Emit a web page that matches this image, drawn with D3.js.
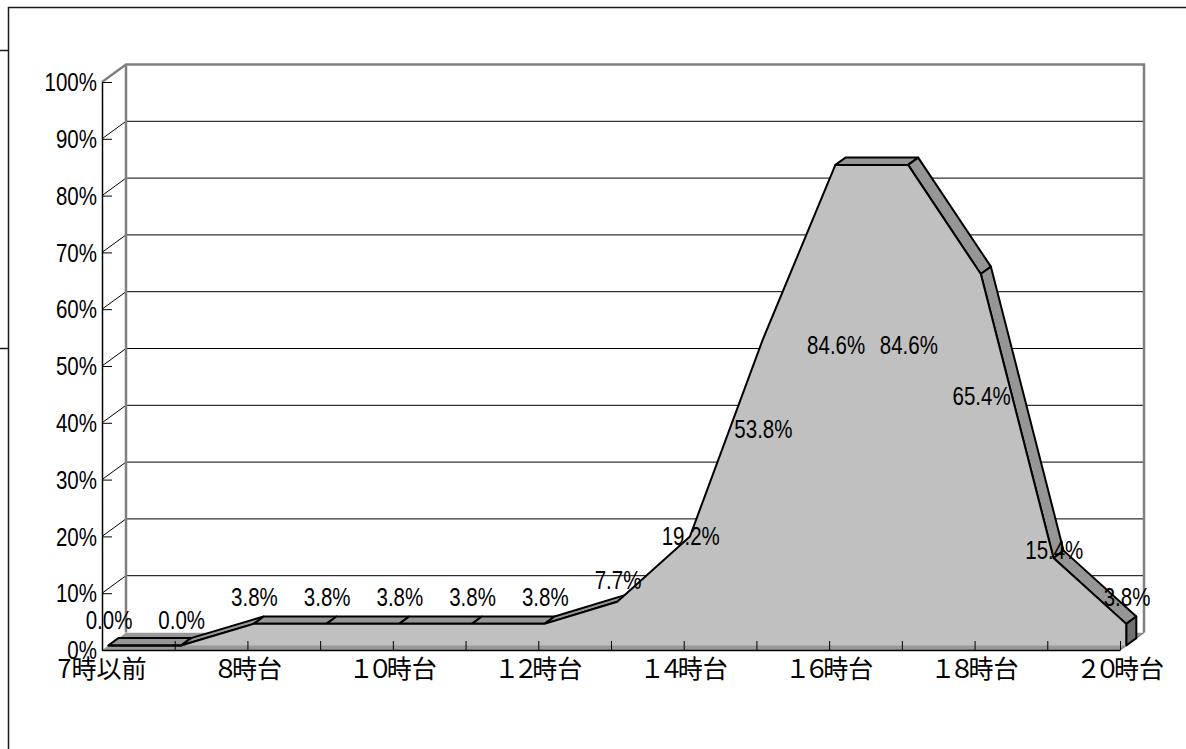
<!DOCTYPE html>
<html>
<head>
<meta charset="utf-8">
<script src="https://cdn.jsdelivr.net/npm/d3@7"></script>
<style>
  html, body { margin: 0; padding: 0; background: #fff; }
  svg { display: block; }
  .num { font-family: "Liberation Sans", Arial, sans-serif; font-size: 25px; fill: #000; }
  .cat { font-family: "Noto Sans CJK JP", sans-serif; font-size: 25px; fill: #000; }
</style>
</head>
<body>
<svg id="chart" width="1186" height="749"></svg>
<script>
// Hourly share (%) — 3D area chart
const categories = ["7時以前", "7時台", "８時台", "９時台", "１０時台", "１１時台", "１２時台",
  "１３時台", "１４時台", "１５時台", "１６時台", "１７時台", "１８時台", "１９時台", "２０時台"];
const values = [0.0, 0.0, 3.8, 3.8, 3.8, 3.8, 3.8, 7.7, 19.2, 53.8, 84.6, 84.6, 65.4, 15.4, 3.8];
const yTicks = [0, 10, 20, 30, 40, 50, 60, 70, 80, 90, 100];

const svg = d3.select("#chart");

// Front plane scales and oblique depth vector
const x = d3.scalePoint().domain(categories).range([102, 1120]);
const y = d3.scaleLinear().domain([0, 100]).range([650, 82]);
const DX = 24, DY = -17.5;
const T1 = 0.26, T2 = 0.68;              // ribbon depth (front / back)
const labelY = d3.scalePow().exponent(0.8).domain([0, 100]).range([620, 305.6]);
const SX = 0.82;                          // horizontal text compression

const P = (i, v, t) => [x(categories[i]) + DX * t, y(v) + DY * t];
const x0 = x.range()[0], x1 = x.range()[1];
const yTop = y(100), yBase = y(0);

// outer frame
const frame = svg.append("g").attr("stroke", "#1a1a1a").attr("stroke-width", 1.5).attr("fill", "none");
frame.append("path").attr("d", "M8.5,749 V7.5 H1186");
frame.append("path").attr("d", "M0,50.5 H8.5 M0,348.5 H8.5");

// floor
svg.append("path")
  .attr("d", `M${x0},${yBase} L${x1},${yBase} L${x1 + DX},${yBase + DY} L${x0 + DX},${yBase + DY} Z`)
  .attr("fill", "#999999").attr("stroke", "none");

// side wall and back wall
svg.append("path")
  .attr("d", `M${x0},${yTop} L${x0 + DX},${yTop + DY} L${x0 + DX},${yBase + DY} L${x0},${yBase} Z`)
  .attr("fill", "#fff");
svg.append("rect")
  .attr("x", x0 + DX).attr("y", yTop + DY)
  .attr("width", x1 - x0).attr("height", yBase - yTop)
  .attr("fill", "#fff");

// gridlines: back wall + side wall diagonals
const grid = svg.append("g");
yTicks.filter(d => d > 0 && d < 100).forEach(d => {
  grid.append("line")
    .attr("x1", x0 + DX).attr("x2", x1 + DX)
    .attr("y1", y(d) + DY).attr("y2", y(d) + DY)
    .attr("stroke", "#000").attr("stroke-width", 1);
  grid.append("line")
    .attr("x1", x0).attr("y1", y(d))
    .attr("x2", x0 + DX).attr("y2", y(d) + DY)
    .attr("stroke", "#000").attr("stroke-width", 1);
});

// wall outlines
svg.append("path")
  .attr("d", `M${x0},${yTop} L${x0 + DX},${yTop + DY} H${x1 + DX} V${yBase + DY} M${x0 + DX},${yTop + DY} V${yBase + DY}`)
  .attr("fill", "none").attr("stroke", "#808080").attr("stroke-width", 2.5);
svg.append("path")
  .attr("d", `M${x1},${yBase} L${x1 + DX},${yBase + DY}`)
  .attr("fill", "none").attr("stroke", "#808080").attr("stroke-width", 1.5);

// ribbon: top strips facing the viewer
const n = values.length;
const ribbon = svg.append("g");
for (let i = 0; i < n - 1; i++) {
  const a = P(i, values[i], T1), b = P(i + 1, values[i + 1], T1);
  const ex = b[0] - a[0], ey = b[1] - a[1];
  const ox = DX * (T2 - T1), oy = DY * (T2 - T1);
  const cross = ex * oy - ey * ox;        // negative => surface faces the viewer
  if (cross < 0) {
    const c = P(i + 1, values[i + 1], T2), d = P(i, values[i], T2);
    ribbon.append("path")
      .attr("d", d3.line()([a, b, c, d]) + "Z")
      .attr("fill", "#969696").attr("stroke", "#000").attr("stroke-width", 2)
      .attr("stroke-linejoin", "round");
  }
}
// right end cap
{
  const a = P(n - 1, values[n - 1], T1), b = P(n - 1, values[n - 1], T2);
  const c = P(n - 1, 0, T2), d = P(n - 1, 0, T1);
  ribbon.append("path")
    .attr("d", d3.line()([a, b, c, d]) + "Z")
    .attr("fill", "#727272").attr("stroke", "#000").attr("stroke-width", 2)
    .attr("stroke-linejoin", "round");
}
// front face
const frontPts = values.map((v, i) => P(i, v, T1));
const frontPoly = frontPts.concat([P(n - 1, 0, T1), P(0, 0, T1)]);
ribbon.append("path")
  .attr("d", d3.line()(frontPoly) + "Z")
  .attr("fill", "#c0c0c0").attr("stroke", "none");
ribbon.append("path")
  .attr("d", d3.line()(frontPts.concat([P(n - 1, 0, T1)])))
  .attr("fill", "none").attr("stroke", "#000").attr("stroke-width", 2)
  .attr("stroke-linejoin", "round");

// value axis (front edge)
const yAxis = svg.append("g")
  .attr("transform", `translate(${x0},0)`)
  .call(d3.axisRight(y).tickValues(yTicks).tickSize(10).tickSizeOuter(0).tickFormat(d => d + "%"));
yAxis.select(".domain").attr("stroke", "#000").attr("stroke-width", 1.5);
yAxis.selectAll(".tick line").attr("stroke", "#000").attr("stroke-width", 1);
yAxis.selectAll(".tick text")
  .attr("class", "num")
  .attr("x", 0).attr("dy", "0.35em")
  .attr("text-anchor", "end")
  .attr("transform", `translate(-5,0) scale(${SX},1)`)
  .attr("font-family", null).attr("font-size", null).attr("fill", null);

// category axis
const xAxis = svg.append("g")
  .attr("transform", `translate(0,${yBase})`)
  .call(d3.axisTop(x).tickSize(9).tickSizeOuter(0).tickFormat(""));
xAxis.select(".domain").attr("stroke", "#000").attr("stroke-width", 1.5);
xAxis.selectAll(".tick line").attr("stroke", "#000").attr("stroke-width", 1);

// category labels (every other one)
const catLabels = svg.append("g");
categories.forEach((c, i) => {
  if (i % 2 !== 0) return;
  const t = catLabels.append("text")
    .attr("class", "cat")
    .attr("x", x(c)).attr("y", 678)
    .attr("text-anchor", "middle");
  const m = c.match(/^([０-９]+)(.*)$/);
  if (m) {
    t.append("tspan").attr("letter-spacing", "-6px").text(m[1]);
    t.append("tspan").text(m[2]);
  } else {
    t.text(c);
  }
});

// data labels
const fmt = d3.format(".1f");
svg.append("g").selectAll("text")
  .data(values)
  .join("text")
  .attr("class", "num")
  .attr("text-anchor", "middle")
  .attr("transform", (v, i) => `translate(${x(categories[i]) + 7},${labelY(v) + 9}) scale(${SX},1)`)
  .text(v => fmt(v) + "%");
</script>
</body>
</html>
